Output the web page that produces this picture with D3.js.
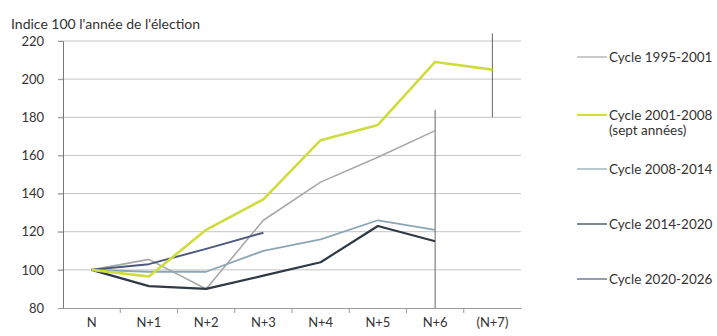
<!DOCTYPE html>
<html><head><meta charset="utf-8">
<script src="https://cdn.jsdelivr.net/npm/d3@7"></script>
<style>
body{margin:0;background:#fff;}
text{font-family:Lato,"Open Sans",sans-serif;fill:#333;}
</style></head>
<body><svg id="c" width="717" height="336"></svg>
<script>
const categories = ["N","N+1","N+2","N+3","N+4","N+5","N+6","(N+7)"];
const yTicks = [80,100,120,140,160,180,200,220];
const seriesNames = ["Cycle 1995-2001","Cycle 2001-2008","Cycle 2008-2014","Cycle 2014-2020","Cycle 2020-2026"];
const cycle1995 = [100,105.5,90,126,146,159,173];
const cycle2001 = [100,96.5,121,137,168,176,209,205];
const cycle2008 = [100,99,99,110,116,126,121];
const cycle2014 = [100,91.5,90,97,104,123,115];
const cycle2020 = [100,103,111,119.5];
const colors = ["#a8a8a8","#cfdc3c","#8aa6b6","#2f3a47","#4b5a7c"];
const widths = [1.6,2.6,1.8,2.2,2];
const markers = [{cat:"N+6",from:80,to:184},{cat:"(N+7)",from:180,to:224}];

const svg = d3.select("#c");
const x = d3.scaleBand().domain(categories).range([63,521]);
const y = d3.scaleLinear().domain([80,220]).range([308,41]);
const cx = c => x(c) + x.bandwidth()/2;

svg.append("g").selectAll("line").data(yTicks.filter(t=>t>80)).join("line")
  .attr("x1",58).attr("x2",521).attr("y1",d=>y(d)).attr("y2",d=>y(d))
  .attr("stroke","#c4c4c4").attr("stroke-width",1);

const ya = svg.append("g").attr("transform","translate(63,0)")
  .call(d3.axisLeft(y).tickValues(yTicks).tickSize(5).tickPadding(14));
ya.select(".domain").attr("stroke","#777");
ya.selectAll(".tick line").attr("stroke","#999");
ya.selectAll("text").style("font-size","13px").attr("fill","#333");

const xa = svg.append("g").attr("transform","translate(0,308)")
  .call(d3.axisBottom(x).tickSize(0).tickPadding(10));
xa.select(".domain").attr("stroke","#999");
xa.selectAll("text").style("font-size","13px").attr("fill","#333");
svg.append("g").selectAll("line").data(categories.slice(1)).join("line")
  .attr("x1",d=>x(d)).attr("x2",d=>x(d)).attr("y1",308).attr("y2",313)
  .attr("stroke","#999");

svg.append("g").selectAll("line").data(markers).join("line")
  .attr("x1",d=>cx(d.cat)).attr("x2",d=>cx(d.cat))
  .attr("y1",d=>y(d.to)).attr("y2",d=>y(d.from))
  .attr("stroke","#666").attr("stroke-width",1);

const allSeries = [cycle1995,cycle2001,cycle2008,cycle2014,cycle2020];
const line = d3.line().x((d,i)=>cx(categories[i])).y(d=>y(d));
const order = [0,2,4,3,1];
svg.append("g").selectAll("path").data(order).join("path")
  .attr("d",i=>line(allSeries[i])).attr("fill","none")
  .attr("stroke",i=>colors[i]).attr("stroke-width",i=>widths[i])
  .attr("stroke-linejoin","round");

svg.append("text").attr("x",11).attr("y",29).style("font-size","14px").text("Indice 100 l'année de l'élection");

const legY = [57,115,169,224,279];
const lg = svg.append("g").selectAll("g").data(seriesNames).join("g")
  .attr("transform",(d,i)=>`translate(577,${legY[i]})`);
lg.append("line").attr("x1",0).attr("x2",30).attr("stroke",(d,i)=>colors[i]).attr("stroke-width",(d,i)=>i===1?2:1.2);
lg.append("text").attr("x",32).attr("dy","0.35em").style("font-size","13.5px").text(d=>d);
svg.append("text").attr("x",609).attr("y",130).attr("dy","0.35em").style("font-size","13.5px").text("(sept années)");
</script></body></html>
